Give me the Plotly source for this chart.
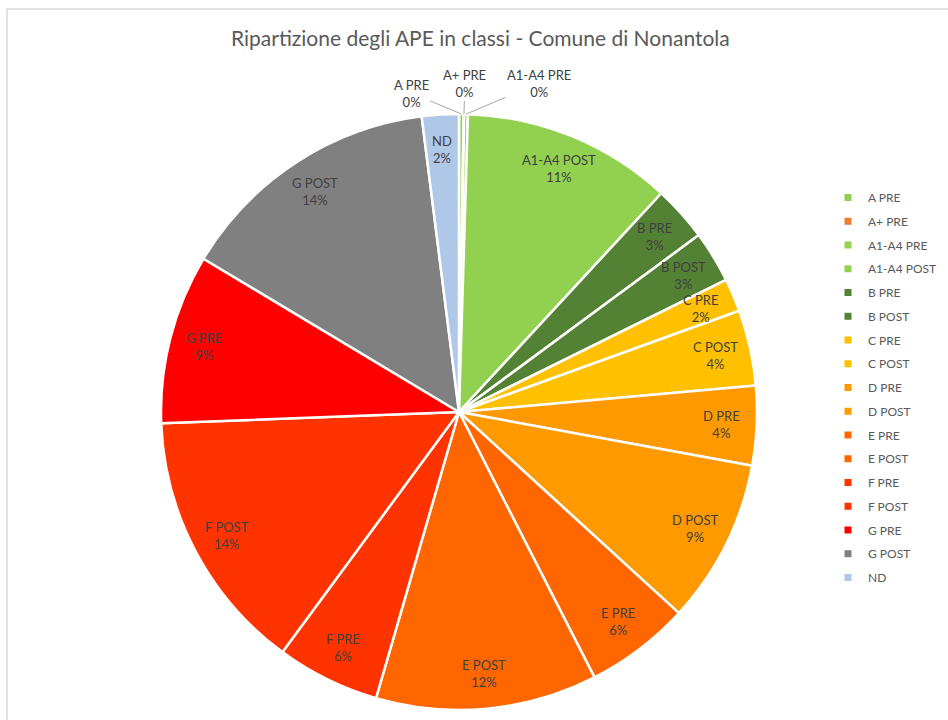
import math
import plotly.graph_objects as go

# Energy performance certificate (APE) classes, share of the total (%)
categories = ["A PRE", "A+ PRE", "A1-A4 PRE", "A1-A4 POST", "B PRE", "B POST",
              "C PRE", "C POST", "D PRE", "D POST", "E PRE", "E POST",
              "F PRE", "F POST", "G PRE", "G POST", "ND"]
shares = [0.25, 0.03, 0.20, 11.4, 3.0, 2.8,
          1.8, 4.1, 4.3, 8.9, 5.7, 12.0,
          5.6, 14.3, 9.2, 14.4, 2.0]
colors = ["#92D050", "#ED7D31", "#92D050", "#92D050", "#548235", "#548235",
          "#FFC000", "#FFC000", "#FF9900", "#FF9900", "#FF6600", "#FF6600",
          "#FF3300", "#FF3300", "#FF0000", "#808080", "#B0C8E8"]
# classes whose label sits outside the pie with a leader line: (dx, dy) offset in px
outside_labels = {"A PRE": (-50, -21), "A+ PRE": (1, -31), "A1-A4 PRE": (73, -31)}

W, H = 948, 720
CX, CY, R = 459, 412, 298          # pie centre and radius in px
LABEL_R = 263                      # radius where the inner labels sit
FONT = "Lato, 'Open Sans', sans-serif"
TEXT_COLOR = "#404040"

fig = go.Figure()

fig.add_trace(go.Pie(
    labels=categories,
    values=shares,
    sort=False,
    direction="clockwise",
    rotation=0,
    marker=dict(colors=colors, line=dict(color="white", width=2.5)),
    textinfo="none",
    hoverinfo="label+percent",
    showlegend=False,
    domain=dict(x=[(CX - R) / W, (CX + R) / W],
                y=[1 - (CY + R) / H, 1 - (CY - R) / H]),
))

# legend entries, one per class
for i, (name, col) in enumerate(zip(categories, colors)):
    fig.add_trace(go.Scatter(
        x=[None], y=[None], mode="markers", name=name,
        legendgroup=f"g{i}",
        marker=dict(symbol="square", size=7, color=col),
    ))

# slice labels placed from each slice's mid angle
total = sum(shares)
annotations = []
start = 0.0
for name, v in zip(categories, shares):
    frac = v / total
    mid = (start + frac / 2) * 2 * math.pi
    start += frac
    pct = f"{round(frac * 100):.0f}%"
    text = f"{name}<br>{pct}"
    if name in outside_labels:
        px = CX + R * math.sin(mid)
        py = CY - R * math.cos(mid)
        dx, dy = outside_labels[name]
        annotations.append(dict(
            x=px / W, y=1 - py / H, xref="paper", yref="paper",
            text=text, showarrow=True, arrowhead=0, arrowwidth=1,
            arrowcolor="#A6A6A6", ax=dx, ay=dy, standoff=0,
            font=dict(family=FONT, size=13, color=TEXT_COLOR),
        ))
    else:
        px = CX + LABEL_R * math.sin(mid)
        py = CY - LABEL_R * math.cos(mid)
        annotations.append(dict(
            x=px / W, y=1 - py / H, xref="paper", yref="paper",
            text=text, showarrow=False, xanchor="center", yanchor="middle",
            font=dict(family=FONT, size=13, color=TEXT_COLOR),
        ))

annotations.append(dict(
    x=480 / W, y=1 - 37 / H, xref="paper", yref="paper",
    text="Ripartizione degli APE in classi - Comune di Nonantola",
    showarrow=False, xanchor="center", yanchor="middle",
    font=dict(family=FONT, size=21, color="#595959"),
))

fig.update_layout(
    width=W, height=H,
    margin=dict(l=0, r=0, t=0, b=0),
    paper_bgcolor="white",
    plot_bgcolor="white",
    xaxis=dict(visible=False),
    yaxis=dict(visible=False),
    annotations=annotations,
    legend=dict(
        x=828 / W, y=1 - 183 / H, xanchor="left", yanchor="top",
        font=dict(family=FONT, size=12, color="#595959"),
        tracegroupgap=4.75, itemclick=False, itemdoubleclick=False,
    ),
    shapes=[dict(
        type="rect", xref="paper", yref="paper",
        x0=7 / W, y0=-0.05, x1=1.05, y1=1 - 9 / H,
        line=dict(color="#D9D9D9", width=1.5),
    )],
)

fig.write_html("out.html")
